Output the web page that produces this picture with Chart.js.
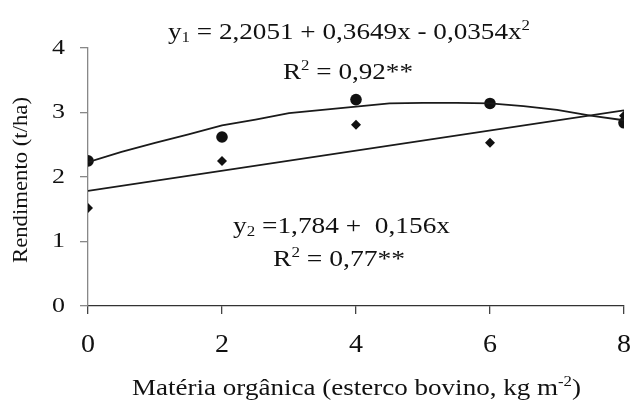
<!DOCTYPE html>
<html>
<head>
<meta charset="utf-8">
<script src="https://cdn.jsdelivr.net/npm/chart.js@4/dist/chart.umd.min.js"></script>
<style>
  html, body { margin: 0; padding: 0; background: #ffffff; }
  #wrap { width: 633px; height: 403px; }
</style>
</head>
<body>
<div id="wrap"><canvas id="c" width="633" height="403"></canvas></div>
<script>
// ---- data ----
const xTickValues = [0, 2, 4, 6, 8];
const yTickValues = [0, 1, 2, 3, 4];
const doses = [0, 2, 4, 6, 8];                       // Matéria orgânica (kg m-2)
const rend1Obs = [2.25, 2.62, 3.20, 3.14, 2.84];     // circles (y1)
const rend2Obs = [1.52, 2.25, 2.81, 2.53, 2.95];     // diamonds (y2)
const curve1X = [0, 0.5, 1, 1.5, 2, 2.5, 3, 3.5, 4, 4.5, 5, 5.5, 6, 6.5, 7, 7.5, 8];
const curve1Y = [2.23, 2.39, 2.53, 2.66, 2.80, 2.89, 2.99, 3.04, 3.09, 3.14, 3.15, 3.15, 3.14, 3.10, 3.04, 2.95, 2.88];
const line2X = [0, 8];
const line2Y = [1.784, 3.032];

const xTitle = 'Matéria orgânica (esterco bovino, kg m';
const yTitle = 'Rendimento (t/ha)';

const SERIF = '"Liberation Serif", "Times New Roman", serif';

function pts(xs, ys) { return xs.map((x, i) => ({ x: x, y: ys[i] })); }

function partSize(p, size) { return p[1] === 'n' ? size : size * 0.62; }
function richWidth(ctx, parts, size) {
  let w = 0;
  parts.forEach(p => { ctx.font = partSize(p, size) + 'px ' + SERIF; w += ctx.measureText(p[0]).width; });
  return w;
}
// draw rich text starting at x (left), baseline y, horizontally fitted to width W
function drawRich(ctx, parts, x, y, size, W) {
  const nat = richWidth(ctx, parts, size);
  const sx = W ? W / nat : 1;
  ctx.save();
  ctx.translate(x, y);
  ctx.scale(sx, 1);
  let cx = 0;
  parts.forEach(p => {
    const s = partSize(p, size);
    let dy = 0;
    if (p[1] === 'sub') dy = size * 0.12;
    if (p[1] === 'sup') dy = -size * 0.38;
    ctx.font = s + 'px ' + SERIF;
    ctx.fillText(p[0], cx, dy);
    cx += ctx.measureText(p[0]).width;
  });
  ctx.restore();
}

const textPlugin = {
  id: 'texts',
  afterDraw(chart) {
    const ctx = chart.ctx;
    ctx.save();
    ctx.fillStyle = '#111';
    ctx.textBaseline = 'alphabetic';
    ctx.textAlign = 'left';

    // tick labels (positions from the library's scales)
    const xs = chart.scales.x, ys = chart.scales.y;
    xTickValues.forEach(v => {
      const px = xs.getPixelForValue(v);
      ctx.save();
      ctx.translate(px, 345);
      ctx.scale(1.12, 1);
      ctx.font = '25px ' + SERIF;
      ctx.textAlign = 'center';
      ctx.textBaseline = 'middle';
      ctx.fillText(String(v), 0, 0);
      ctx.restore();
    });
    yTickValues.forEach(v => {
      const py = ys.getPixelForValue(v);
      ctx.save();
      ctx.translate(65, py);
      ctx.scale(1.18, 1);
      ctx.font = '22px ' + SERIF;
      ctx.textAlign = 'right';
      ctx.textBaseline = 'middle';
      ctx.fillText(String(v), 0, 0);
      ctx.restore();
    });

    // regression annotations
    drawRich(ctx, [['y', 'n'], ['1', 'sub'], [' = 2,2051 + 0,3649x - 0,0354x', 'n'], ['2', 'sup']], 168, 39, 24, 362);
    drawRich(ctx, [['R', 'n'], ['2', 'sup'], [' = 0,92**', 'n']], 283, 79, 24, 130);
    drawRich(ctx, [['y', 'n'], ['2', 'sub'], [' =1,784 +  0,156x', 'n']], 233, 233, 24, 217);
    drawRich(ctx, [['R', 'n'], ['2', 'sup'], [' = 0,77**', 'n']], 273, 266, 24, 132);

    // x axis title
    drawRich(ctx, [[xTitle, 'n'], ['-2', 'sup'], [')', 'n']], 132, 395, 23, 449);

    // y axis title (rotated, fitted to length 166)
    ctx.save();
    ctx.translate(27, 180);
    ctx.rotate(-Math.PI / 2);
    ctx.font = '22px ' + SERIF;
    const w = ctx.measureText(yTitle).width;
    ctx.scale(166 / w, 1);
    ctx.textAlign = 'center';
    ctx.fillText(yTitle, 0, 0);
    ctx.restore();

    ctx.restore();
  }
};

new Chart(document.getElementById('c'), {
  type: 'scatter',
  data: {
    datasets: [
      { data: pts(curve1X, curve1Y), showLine: true, borderColor: '#1a1a1a', borderWidth: 1.8,
        pointRadius: 0, tension: 0, fill: false },
      { data: pts(line2X, line2Y), showLine: true, borderColor: '#1a1a1a', borderWidth: 1.8,
        pointRadius: 0, tension: 0, fill: false },
      { data: pts(doses, rend1Obs), pointStyle: 'circle', pointRadius: 5.8,
        backgroundColor: '#111', borderColor: '#111', borderWidth: 0, showLine: false },
      { data: pts(doses, rend2Obs), pointStyle: 'rectRot', pointRadius: 5,
        backgroundColor: '#111', borderColor: '#111', borderWidth: 0, showLine: false }
    ]
  },
  options: {
    responsive: false,
    animation: false,
    devicePixelRatio: 1,
    layout: { padding: { left: 0, right: 9, top: 48, bottom: 0 } },
    plugins: { legend: { display: false }, tooltip: { enabled: false } },
    scales: {
      x: {
        type: 'linear', min: 0, max: 8,
        afterBuildTicks(s) { s.ticks = xTickValues.map(v => ({ value: v })); },
        afterFit(s) { s.height = 97; },
        ticks: { display: false },
        grid: { display: true, drawOnChartArea: false, drawTicks: true, tickLength: 8, color: '#444', lineWidth: 1.3 },
        border: { display: true, color: '#333', width: 1.3 }
      },
      y: {
        type: 'linear', min: 0, max: 4,
        afterBuildTicks(s) { s.ticks = yTickValues.map(v => ({ value: v })); },
        afterFit(s) { s.width = 88; },
        ticks: { display: false },
        grid: { display: true, drawOnChartArea: false, drawTicks: true, tickLength: 8, color: '#888', lineWidth: 1.3 },
        border: { display: true, color: '#888', width: 1.3 }
      }
    }
  },
  plugins: [textPlugin]
});
</script>
</body>
</html>
